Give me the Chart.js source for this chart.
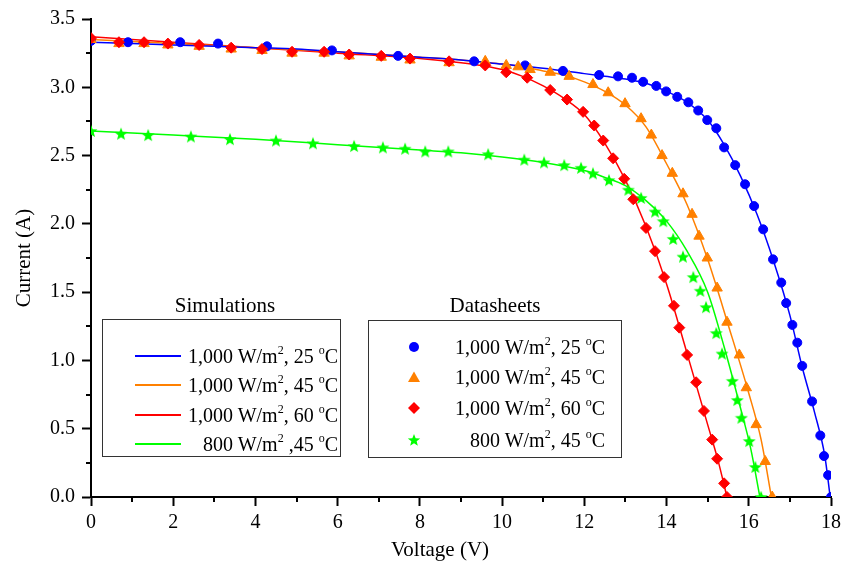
<!DOCTYPE html>
<html>
<head>
<meta charset="utf-8">
<script src="https://cdn.jsdelivr.net/npm/chart.js@4.4.0/dist/chart.umd.min.js"></script>
<style>
  body { margin: 0; background: #fff; }
  #wrap { position: relative; width: 846px; height: 567px; font-family: "Liberation Serif", "Times New Roman", serif; color: #000; }
  #chart { position: absolute; left: 0; top: 0; }
  .ttl { position: absolute; font-size: 21px; line-height: 21px; white-space: nowrap; transform: translateX(-50%); }
  .box { position: absolute; border: 1px solid #333; box-sizing: border-box; }
  .row { position: absolute; font-size: 20px; line-height: 20px; height: 20px; white-space: nowrap; text-align: right; }
  .row .s { font-size: 12px; position: relative; top: -9px; }
  .swatch { position: absolute; width: 46px; height: 2px; }
  .mk { position: absolute; width: 14px; height: 14px; }
</style>
</head>
<body>
<div id="wrap">
  <canvas id="chart" width="846" height="567"></canvas>

  <div class="ttl" style="left:225px; top:295px">Simulations</div>
  <div class="box" style="left:102px; top:319px; width:239px; height:138px"></div>
  <div class="swatch" style="left:135px; top:355px; background:#0000ff"></div>
  <div class="swatch" style="left:135px; top:384px; background:#ff8000"></div>
  <div class="swatch" style="left:135px; top:414px; background:#ff0000"></div>
  <div class="swatch" style="left:135px; top:443px; background:#00ff00"></div>
  <div class="row" style="left:150px; width:188px; top:346px">1,000 W/m<span class="s">2</span>, 25 <span class="s">o</span>C</div>
  <div class="row" style="left:150px; width:188px; top:375px">1,000 W/m<span class="s">2</span>, 45 <span class="s">o</span>C</div>
  <div class="row" style="left:150px; width:188px; top:405px">1,000 W/m<span class="s">2</span>, 60 <span class="s">o</span>C</div>
  <div class="row" style="left:150px; width:188px; top:434px">800 W/m<span class="s">2</span> ,45 <span class="s">o</span>C</div>

  <div class="ttl" style="left:495px; top:295px">Datasheets</div>
  <div class="box" style="left:368px; top:320px; width:254px; height:138px"></div>
  <svg class="mk" style="left:407px; top:340px" viewBox="0 0 14 14"><circle cx="7" cy="7" r="5" fill="#0000ff"/></svg>
  <svg class="mk" style="left:407px; top:370px" viewBox="0 0 14 14"><polygon points="7,1.5 13,12 1,12" fill="#ff8000"/></svg>
  <svg class="mk" style="left:407px; top:401px" viewBox="0 0 14 14"><polygon points="7,1 13,7 7,13 1,7" fill="#ff0000"/></svg>
  <svg class="mk" style="left:407px; top:433px" viewBox="0 0 14 14"><polygon id="starpoly" fill="#00ff00" points=""/></svg>
  <div class="row" style="left:430px; width:175px; top:337px">1,000 W/m<span class="s">2</span>, 25 <span class="s">o</span>C</div>
  <div class="row" style="left:430px; width:175px; top:367px">1,000 W/m<span class="s">2</span>, 45 <span class="s">o</span>C</div>
  <div class="row" style="left:430px; width:175px; top:398px">1,000 W/m<span class="s">2</span>, 60 <span class="s">o</span>C</div>
  <div class="row" style="left:430px; width:175px; top:430px">800 W/m<span class="s">2</span>, 45 <span class="s">o</span>C</div>
</div>

<script>
// axis ticks
var xTicks = [0, 2, 4, 6, 8, 10, 12, 14, 16, 18];
var xMinor = [1, 3, 5, 7, 9, 11, 13, 15, 17];
var yTicks = [0, 0.5, 1.0, 1.5, 2.0, 2.5, 3.0, 3.5];
var yMinor = [0.25, 0.75, 1.25, 1.75, 2.25, 2.75, 3.25];

// simulation curves (voltage V, current A)
var simBlueV = [0, 1, 2, 3, 4, 5, 6, 7, 8, 9, 10, 11, 12, 12.5, 13, 13.5, 14, 14.5, 15, 15.4, 15.8, 16.2, 16.6, 17.0, 17.3, 17.6, 17.85, 17.98];
var simBlueI = [3.33, 3.32, 3.31, 3.30, 3.29, 3.28, 3.26, 3.24, 3.22, 3.20, 3.17, 3.14, 3.10, 3.08, 3.06, 3.03, 2.97, 2.89, 2.76, 2.58, 2.35, 2.07, 1.73, 1.33, 0.95, 0.62, 0.30, 0];

var simOrangeV = [0, 2, 4, 6, 8, 9, 10, 10.5, 11, 11.5, 12, 12.5, 13, 13.5, 14, 14.5, 15, 15.5, 16, 16.3, 16.55];
var simOrangeI = [3.35, 3.32, 3.29, 3.26, 3.22, 3.20, 3.17, 3.15, 3.12, 3.09, 3.04, 2.97, 2.87, 2.71, 2.44, 2.14, 1.74, 1.26, 0.76, 0.42, 0];

var simRedV = [0, 2, 4, 6, 8, 9, 9.5, 10, 10.5, 11, 11.5, 12, 12.5, 13, 13.5, 14, 14.5, 15, 15.25, 15.47];
var simRedI = [3.37, 3.33, 3.29, 3.25, 3.21, 3.18, 3.16, 3.13, 3.08, 3.01, 2.92, 2.80, 2.59, 2.32, 1.98, 1.56, 1.05, 0.53, 0.27, 0];

var simGreenV = [0, 2, 4, 6, 8, 9, 10, 11, 12, 12.5, 13, 13.5, 14, 14.5, 15, 15.4, 15.8, 16.05, 16.27];
var simGreenI = [2.68, 2.65, 2.62, 2.58, 2.54, 2.52, 2.49, 2.45, 2.39, 2.34, 2.28, 2.17, 2.02, 1.80, 1.50, 1.10, 0.65, 0.35, 0];

// datasheet points
var dsBlueV = [0, 0.90, 2.17, 3.09, 4.28, 5.86, 7.47, 9.32, 10.56, 11.48, 12.36, 12.82, 13.16, 13.43, 13.75, 13.99, 14.26, 14.53, 14.77, 14.99, 15.21, 15.40, 15.67, 15.91, 16.13, 16.35, 16.59, 16.79, 16.91, 17.06, 17.18, 17.30, 17.54, 17.74, 17.83, 17.93, 18.0];
var dsBlueI = [3.34, 3.33, 3.33, 3.32, 3.30, 3.27, 3.23, 3.19, 3.16, 3.12, 3.09, 3.08, 3.07, 3.04, 3.01, 2.97, 2.93, 2.89, 2.83, 2.76, 2.70, 2.56, 2.43, 2.29, 2.13, 1.96, 1.74, 1.57, 1.42, 1.26, 1.13, 0.96, 0.70, 0.45, 0.30, 0.16, 0];

var dsOrangeV = [0, 0.68, 1.29, 1.87, 2.63, 3.41, 4.16, 4.89, 5.67, 6.28, 7.06, 7.76, 8.71, 9.59, 10.10, 10.39, 10.68, 11.17, 11.63, 12.21, 12.58, 12.99, 13.38, 13.63, 13.89, 14.14, 14.40, 14.62, 14.79, 14.99, 15.23, 15.47, 15.77, 15.94, 16.18, 16.40, 16.57];
var dsOrangeI = [3.35, 3.32, 3.32, 3.31, 3.30, 3.28, 3.27, 3.25, 3.25, 3.23, 3.22, 3.20, 3.18, 3.19, 3.16, 3.15, 3.13, 3.11, 3.08, 3.02, 2.96, 2.88, 2.77, 2.65, 2.50, 2.37, 2.22, 2.07, 1.91, 1.75, 1.53, 1.28, 1.04, 0.80, 0.53, 0.26, 0];

var dsRedV = [0, 0.68, 1.29, 1.87, 2.63, 3.41, 4.16, 4.89, 5.67, 6.28, 7.06, 7.76, 8.71, 9.59, 10.10, 10.61, 11.17, 11.58, 11.97, 12.24, 12.46, 12.70, 12.97, 13.19, 13.50, 13.72, 13.94, 14.18, 14.31, 14.50, 14.72, 14.91, 15.11, 15.23, 15.40, 15.47];
var dsRedI = [3.36, 3.33, 3.33, 3.32, 3.31, 3.29, 3.28, 3.26, 3.26, 3.24, 3.23, 3.21, 3.19, 3.16, 3.11, 3.07, 2.98, 2.91, 2.82, 2.72, 2.61, 2.48, 2.33, 2.18, 1.97, 1.80, 1.61, 1.40, 1.24, 1.04, 0.84, 0.63, 0.42, 0.28, 0.10, 0];

var dsGreenV = [0, 0.73, 1.39, 2.43, 3.38, 4.50, 5.40, 6.40, 7.10, 7.64, 8.13, 8.69, 9.66, 10.54, 11.02, 11.51, 11.92, 12.21, 12.60, 13.07, 13.38, 13.72, 13.92, 14.16, 14.40, 14.65, 14.82, 14.96, 15.21, 15.35, 15.60, 15.72, 15.82, 16.01, 16.16, 16.30];
var dsGreenI = [2.68, 2.66, 2.65, 2.64, 2.62, 2.61, 2.59, 2.57, 2.56, 2.55, 2.53, 2.53, 2.51, 2.47, 2.45, 2.43, 2.41, 2.37, 2.32, 2.25, 2.19, 2.09, 2.02, 1.89, 1.76, 1.61, 1.51, 1.39, 1.20, 1.05, 0.85, 0.71, 0.58, 0.41, 0.22, 0];

function pts(v, i) {
    return v.map(function (x, k) { return { x: x, y: i[k] }; });
}

function starPoints(cx, cy, ro, ri) {
    var p = [];
    for (var k = 0; k < 10; k++) {
        var r = k % 2 ? ri : ro;
        var a = -Math.PI / 2 + k * Math.PI / 5;
        p.push([cx + r * Math.cos(a), cy + r * Math.sin(a)]);
    }
    return p;
}

// filled star marker for the 800 W/m2 points
var starImg = document.createElement('canvas');
starImg.width = 14;
starImg.height = 14;
(function () {
    var c = starImg.getContext('2d');
    c.fillStyle = '#00ff00';
    c.beginPath();
    starPoints(7, 7.5, 6.8, 2.9).forEach(function (p, k) {
        if (k === 0) c.moveTo(p[0], p[1]); else c.lineTo(p[0], p[1]);
    });
    c.closePath();
    c.fill();
})();
document.getElementById('starpoly').setAttribute('points',
    starPoints(7, 7.5, 6.5, 2.8).map(function (p) { return p[0].toFixed(2) + ',' + p[1].toFixed(2); }).join(' '));

var minorTicks = {
    id: 'minorTicks',
    afterDraw: function (chart) {
        var ctx = chart.ctx, area = chart.chartArea;
        var xs = chart.scales.x, ys = chart.scales.y;
        ctx.save();
        ctx.strokeStyle = '#000';
        ctx.lineWidth = 2;
        ctx.beginPath();
        xMinor.forEach(function (v) {
            var p = Math.round(xs.getPixelForValue(v));
            ctx.moveTo(p, area.bottom);
            ctx.lineTo(p, area.bottom + 5);
        });
        yMinor.forEach(function (v) {
            var p = Math.round(ys.getPixelForValue(v));
            ctx.moveTo(area.left, p);
            ctx.lineTo(area.left - 5, p);
        });
        ctx.stroke();
        ctx.restore();
    }
};

function simLine(v, i, color) {
    return {
        data: pts(v, i),
        showLine: true,
        borderColor: color,
        borderWidth: 1.5,
        pointRadius: 0,
        cubicInterpolationMode: 'monotone',
        order: 10
    };
}

function markers(v, i, color, style, radius, order) {
    return {
        data: pts(v, i),
        showLine: false,
        pointStyle: style,
        pointRadius: radius,
        backgroundColor: color,
        borderColor: color,
        borderWidth: 1,
        order: order
    };
}

var serif = '"Liberation Serif", "Times New Roman", serif';

new Chart(document.getElementById('chart'), {
    type: 'scatter',
    data: {
        datasets: [
            simLine(simBlueV, simBlueI, '#0000ff'),
            simLine(simOrangeV, simOrangeI, '#ff8000'),
            simLine(simRedV, simRedI, '#ff0000'),
            simLine(simGreenV, simGreenI, '#00ff00'),
            markers(dsGreenV, dsGreenI, '#00ff00', starImg, 7, 4),
            markers(dsBlueV, dsBlueI, '#0000ff', 'circle', 4.5, 3),
            markers(dsOrangeV, dsOrangeI, '#ff8000', 'triangle', 6, 2),
            markers(dsRedV, dsRedI, '#ff0000', 'rectRot', 5.5, 1)
        ]
    },
    options: {
        responsive: false,
        animation: false,
        layout: { padding: { top: 18, right: 15, left: 0, bottom: 0 } },
        plugins: { legend: { display: false }, tooltip: { enabled: false } },
        scales: {
            x: {
                type: 'linear',
                min: 0,
                max: 18,
                afterFit: function (s) { s.height = 70; },
                afterBuildTicks: function (s) { s.ticks = xTicks.map(function (v) { return { value: v }; }); },
                grid: { drawOnChartArea: false, tickLength: 9, tickWidth: 2, tickColor: '#000' },
                border: { color: '#000', width: 2 },
                ticks: { color: '#000', padding: 5, maxRotation: 0, font: { family: serif, size: 20 },
                    callback: function (v) { return String(v); } },
                // trailing spaces pull the centred title a little left, as in the original
                title: { display: true, text: 'Voltage (V)\u00a0\u00a0\u00a0\u00a0\u00a0\u00a0\u00a0\u00a0', color: '#000',
                    padding: { top: 0, bottom: 4 }, font: { family: serif, size: 21 } }
            },
            y: {
                min: 0,
                max: 3.5,
                afterFit: function (s) { s.width = 91; },
                afterBuildTicks: function (s) { s.ticks = yTicks.map(function (v) { return { value: v }; }); },
                grid: { drawOnChartArea: false, tickLength: 9, tickWidth: 2, tickColor: '#000' },
                border: { color: '#000', width: 2 },
                ticks: { color: '#000', padding: 7, font: { family: serif, size: 20 },
                    callback: function (v) { return Number(v).toFixed(1); } },
                title: { display: true, text: 'Current (A)', color: '#000', padding: { top: 12, bottom: 0 },
                    font: { family: serif, size: 21 } }
            }
        }
    },
    plugins: [minorTicks]
});
</script>
</body>
</html>
